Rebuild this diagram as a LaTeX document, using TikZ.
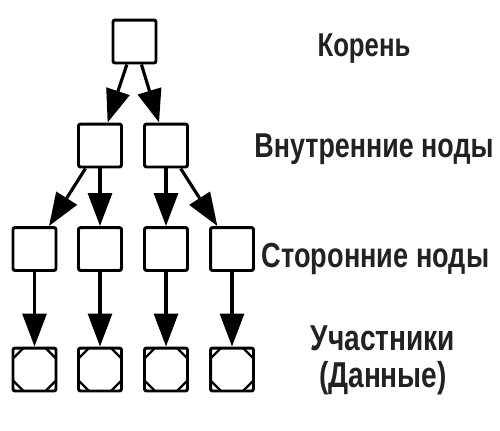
\documentclass[tikz,border=0pt]{standalone}
\usepackage{fontspec}
\setmainfont{Liberation Sans}
\newfontfamily\lblfont[FakeStretch=0.78]{Liberation Sans}
\usetikzlibrary{arrows.meta}
\definecolor{ink}{HTML}{000000}
\definecolor{lbltext}{HTML}{222222}
\tikzset{
  box/.style={draw=ink, fill=white, line width=1.7pt, minimum size=0.86cm, inner sep=0pt, rounded corners=1.2pt},
  cut/.style={draw=ink, line width=1.3pt},
  leaf/.style={box, path picture={
    \draw[cut] ([xshift=0.21cm]path picture bounding box.north west) -- ([yshift=-0.21cm]path picture bounding box.north west);
    \draw[cut] ([xshift=-0.21cm]path picture bounding box.north east) -- ([yshift=-0.21cm]path picture bounding box.north east);
    \draw[cut] ([xshift=0.21cm]path picture bounding box.south west) -- ([yshift=0.21cm]path picture bounding box.south west);
    \draw[cut] ([xshift=-0.21cm]path picture bounding box.south east) -- ([yshift=0.21cm]path picture bounding box.south east);
  }},
  arr/.style={draw=ink, line width=1.8pt, -{Triangle[length=0.66cm, width=0.48cm]}},
  lbl/.style={text=lbltext, inner sep=0pt, align=center, anchor=base, font=\lblfont\bfseries\fontsize{#1}{20.5}\selectfont}
}

\begin{document}
\begin{tikzpicture}[x=0.02cm, y=0.02cm]
  \useasboundingbox (0,0) rectangle (500,-430);

  % tree
  \node[box] (root) at (134.5,-41.5) {};
  \node[box] (in1) at (100,-145.5) {};
  \node[box] (in2) at (166,-145.5) {};

  \node[box] (s1) at (34.5,-249) {};
  \node[box] (s2) at (100,-249) {};
  \node[box] (s3) at (166,-249) {};
  \node[box] (s4) at (232,-249) {};

  \node[leaf] (l1) at (34.5,-369.5) {};
  \node[leaf] (l2) at (100,-369.5) {};
  \node[leaf] (l3) at (166,-369.5) {};
  \node[leaf] (l4) at (232,-369.5) {};

  \draw[arr] (root) -- (in1);
  \draw[arr] (root) -- (in2);
  \draw[arr] (in1) -- (s1);
  \draw[arr] (in1) -- (s2);
  \draw[arr] (in2) -- (s3);
  \draw[arr] (in2) -- (s4);
  \draw[arr] (s1) -- (l1);
  \draw[arr] (s2) -- (l2);
  \draw[arr] (s3) -- (l3);
  \draw[arr] (s4) -- (l4);

  % levels
  \node[lbl=18.8] (tRoot) at (364,-56) {Корень};
  \node[lbl=19.6] (tInner) at (374,-157) {Внутренние ноды};
  \node[lbl=19.8] (tSide) at (375.5,-267) {Сторонние ноды};
  \node[lbl=20.5] (tLeaf) at (383,-387) {Участники\\(Данные)};
\end{tikzpicture}
\end{document}
